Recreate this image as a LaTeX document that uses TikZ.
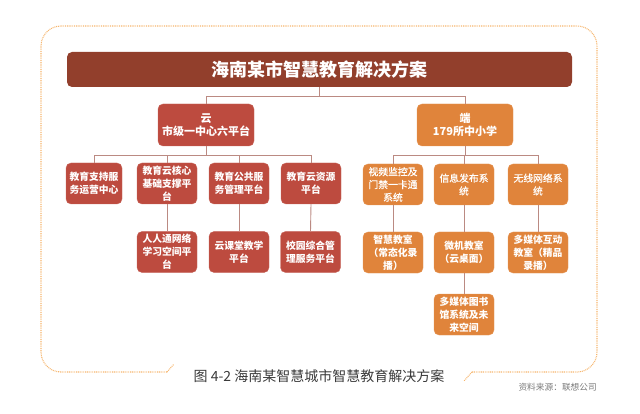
\documentclass[tikz,border=0pt]{standalone}
\usepackage{fontspec}
\setmainfont{Noto Sans CJK SC}
\newfontfamily\cjk{Noto Sans CJK SC}
\newfontfamily\cjkmid[FakeBold=0.7]{Noto Sans CJK SC}
\definecolor{titlec}{HTML}{923F2C}
\definecolor{cloudc}{HTML}{BD4B3F}
\definecolor{endc}{HTML}{E0843B}
\definecolor{linec}{HTML}{BB8A82}
\definecolor{borderc}{HTML}{F6B66E}
\definecolor{captionc}{HTML}{3A3A3A}
\definecolor{sourcec}{HTML}{7A7A7A}
\tikzset{
  box/.style={rounded corners=5pt, text=white, align=center, inner sep=0pt,
    minimum width=60pt, minimum height=41pt, font=\cjk\bfseries\fontsize{9.8}{12.8}\selectfont},
  cloudbox/.style={box, fill=cloudc, draw=cloudc!85!white},
  endbox/.style={box, fill=endc, draw=endc!85!white},
  endthin/.style={endbox, font=\cjkmid\fontsize{9.8}{12.8}\selectfont},
  conn/.style={draw=linec, line width=0.9pt},
  frame/.style={draw=borderc, line width=1.1pt, dash pattern=on 0.9pt off 0.9pt},
}
\begin{document}
\begin{tikzpicture}[x=1pt,y=-1pt]
\path[use as bounding box] (0,0) rectangle (640,414);
% frame
\draw[frame, rounded corners=20pt] (167,372) -- (41,372) -- (41,26) -- (597,26) -- (597,372) -- (472,372);
\draw[frame] (167,372) -- (174,364);
\draw[frame] (472,372) -- (464,381);
% title
\node[rounded corners=5pt, fill=titlec, text=white, minimum width=505pt, minimum height=35pt, inner sep=0pt,
  font=\cjk\bfseries\fontsize{18}{20}\selectfont] (title) at (319.5,69.5) {海南某市智慧教育解决方案};
% level 1
\node[cloudbox, minimum width=96pt, minimum height=42pt, font=\cjk\bfseries\fontsize{11}{13}\selectfont] (cloud) at (206,125) {云\\市级一中心六平台};
\node[endbox, minimum width=96pt, minimum height=42pt, font=\cjk\bfseries\fontsize{11}{13}\selectfont] (end) at (465,125) {端\\179所中小学};
% cloud children
\node[cloudbox, minimum width=56pt] (c1) at (94,183.5) {教育支持服\\务运营中心};
\node[cloudbox] (c2) at (167,183.5) {教育云核心\\基础支撑平\\台};
\node[cloudbox] (c3) at (239,183.5) {教育公共服\\务管理平台};
\node[cloudbox] (c4) at (311,183.5) {教育云资源\\平台};
\node[cloudbox] (c2a) at (167,252) {人人通网络\\学习空间平\\台};
\node[cloudbox] (c3a) at (239,252) {云课堂教学\\平台};
\node[cloudbox] (c4a) at (310.5,252) {校园综合管\\理服务平台};
% end children
\node[endthin] (e1) at (393,184.5) {视频监控及\\门禁一卡通\\系统};
\node[endthin] (e2) at (464,184.5) {信息发布系\\统};
\node[endthin] (e3) at (538,184.5) {无线网络系\\统};
\node[endbox] (e1a) at (393,252.5) {智慧教室\\（常态化录\\播）};
\node[endbox] (e2a) at (464,252.5) {微机教室\\（云桌面）};
\node[endbox] (e3a) at (538,252.5) {多媒体互动\\教室（精品\\录播）};
\node[endbox] (e2b) at (464,314.5) {多媒体图书\\馆系统及未\\来空间};
% connectors
\draw[conn] (title.south) -- ++(0,9) -| (cloud.north);
\draw[conn] (title.south) -- ++(0,9) -| (end.north);
\foreach \c in {c1,c2,c3,c4} \draw[conn] (cloud.south) -- ++(0,9) -| (\c.north);
\foreach \c in {e1,e2,e3} \draw[conn] (end.south) -- ++(0,9) -| (\c.north);
\draw[conn] (c2.south) -- (c2a.north);
\draw[conn] (c3.south) -- (c3a.north);
\draw[conn] (c4.south) -- (c4a.north);
\draw[conn] (e1.south) -- (e1a.north);
\draw[conn] (e2.south) -- (e2a.north);
\draw[conn] (e3.south) -- (e3a.north);
\draw[conn] (e2a.south) -- (e2b.north);
% caption
\node[text=captionc, inner sep=0pt, font=\cjk\fontsize{14}{16}\selectfont] (cap) at (319,376) {图 4-2 海南某智慧城市智慧教育解决方案};
\node[text=sourcec, inner sep=0pt, anchor=east, font=\cjk\fontsize{8.7}{10}\selectfont] (src) at (597,387) {资料来源：联想公司};
\end{tikzpicture}
\end{document}
